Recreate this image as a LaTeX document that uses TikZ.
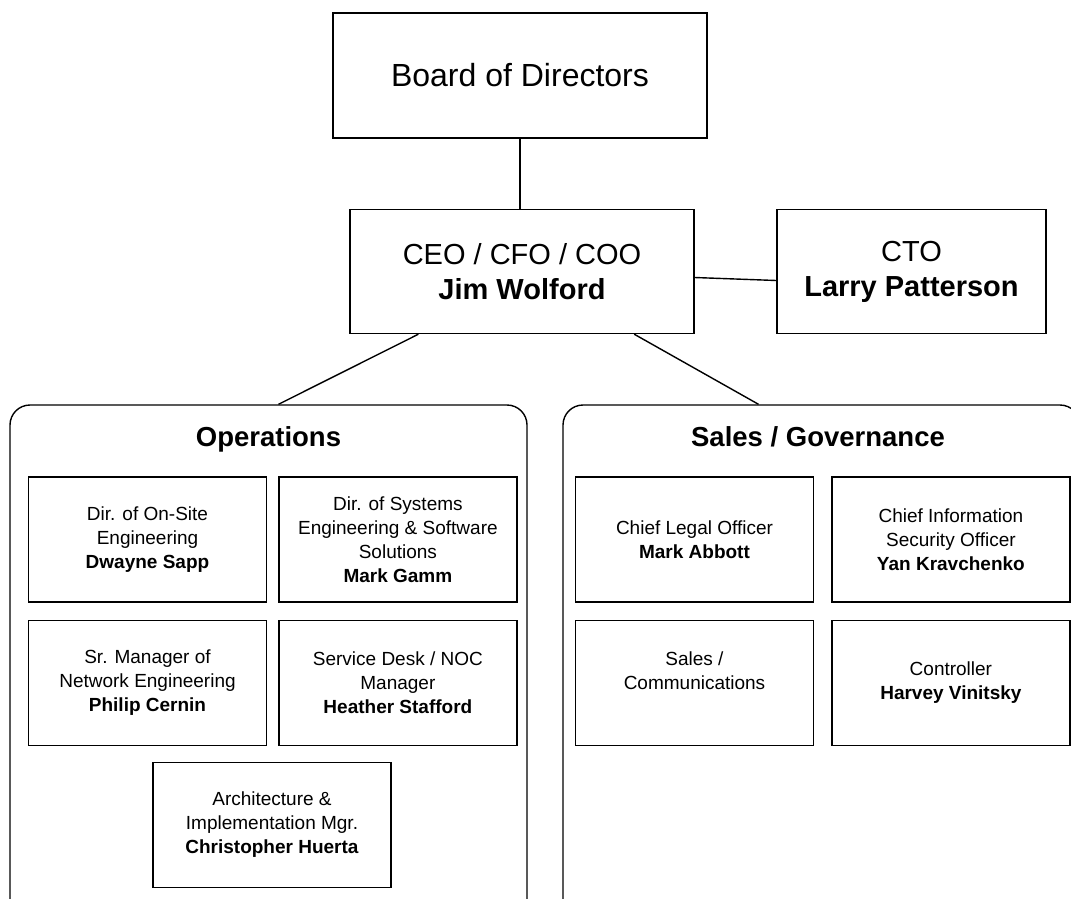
\documentclass[tikz,border=0pt]{standalone}
\usepackage{fontspec}
\setmainfont{Liberation Sans}
\usetikzlibrary{positioning, calc}
\tikzset{
  topbox/.style    = {draw, line width=1.4pt, align=center, inner sep=4pt},
  role/.style      = {draw, line width=1.4pt, minimum width=238pt, minimum height=125pt,
                      align=center, font=\fontsize{19}{24}\selectfont},
  dept/.style      = {draw, line width=1.4pt, rounded corners=20pt,
                      minimum width=517pt, minimum height=525pt},
  depttitle/.style = {anchor=base, font=\fontsize{27.5}{33}\selectfont\bfseries},
  link/.style      = {line width=1.4pt},
}

\begin{document}
\begin{tikzpicture}[x=1pt, y=-1pt]
  \useasboundingbox (0,0) rectangle (1071,898);
  \clip (0,0) rectangle (1071,898);

  % top of the chart
  \node[topbox, minimum width=374pt, minimum height=125pt,
        font=\fontsize{32}{38}\selectfont] (board) at (520,75.5) {Board of Directors};
  \node[topbox, minimum width=344pt, minimum height=124pt,
        font=\fontsize{29}{35}\selectfont] (ceo) at (522,271.5)
        {CEO / CFO / COO\\\textbf{Jim Wolford}};
  \node[topbox, minimum width=269pt, minimum height=124pt,
        font=\fontsize{29}{35}\selectfont] (cto) at (911.5,271.5)
        {CTO\\\textbf{Larry Patterson}};

  % departments
  \node[dept] (ops) at (268.5,667.5) {};
  \node[dept] (sales) at (821.5,667.5) {};
  \node[depttitle] (opstitle) at ([yshift=-42pt]ops.north) {Operations};
  \node[depttitle] (salestitle) at ([yshift=-42pt]sales.north -| 818,0) {Sales / Governance};

  % operations
  \node[role] (dsapp) at (147.5,539.5) {Dir. of On-Site\\Engineering\\\textbf{Dwayne Sapp}};
  \node[role, right=11pt of dsapp] (mgamm)
        {Dir. of Systems\\Engineering \& Software\\Solutions\\\textbf{Mark Gamm}};
  \node[role, below=17pt of dsapp] (pcernin)
        {Sr. Manager of\\Network Engineering\\\textbf{Philip Cernin}};
  \node[role, below=17pt of mgamm] (hstafford)
        {Service Desk / NOC\\Manager\\\textbf{Heather Stafford}};
  \node[role] (chuerta) at (272,825)
        {Architecture \&\\Implementation Mgr.\\\textbf{Christopher Huerta}};

  % sales / governance
  \node[role] (mabbott) at (694.5,539.5) {Chief Legal Officer\\\textbf{Mark Abbott}};
  \node[role, right=17pt of mabbott] (ykrav)
        {Chief Information\\Security Officer\\\textbf{Yan Kravchenko}};
  \node[role, below=17pt of mabbott] (salescomm) {Sales /\\Communications\\\mbox{}};
  \node[role, below=17pt of ykrav] (hvin) {Controller\\\textbf{Harvey Vinitsky}};

  % reporting lines
  \draw[link] (board.south) -- (board.south |- ceo.north);
  \draw[link] ([yshift=-6pt]ceo.east) -- ([yshift=-9pt]cto.west);
  \draw[link] ($(ceo.south west)!0.2!(ceo.south east)$) -- ([xshift=10pt]ops.north);
  \draw[link] ($(ceo.south west)!0.825!(ceo.south east)$) -- ([xshift=-63pt]sales.north);
\end{tikzpicture}
\end{document}
